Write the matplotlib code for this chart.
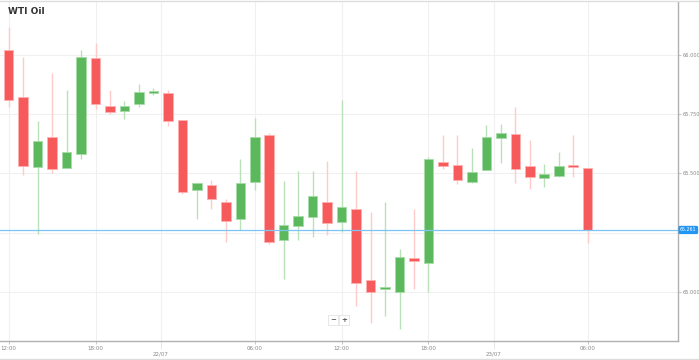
import numpy as np
import matplotlib
matplotlib.use("Agg")
import matplotlib.pyplot as plt
from matplotlib.lines import Line2D

# hourly OHLC, WTI Oil
opens = [66.021, 65.821, 65.525, 65.652, 65.524, 65.580, 65.986, 65.785, 65.763, 65.794,
         65.840, 65.839, 65.725, 65.428, 65.449, 65.380, 65.307, 65.463, 65.661, 65.218,
         65.279, 65.314, 65.380, 65.293, 65.349, 65.049, 65.010, 64.997, 65.144, 65.120,
         65.549, 65.534, 65.463, 65.514, 65.651, 65.665, 65.531, 65.479, 65.489, 65.535,
         65.521]
highs = [66.117, 65.990, 65.721, 65.923, 65.852, 66.021, 66.052, 65.852, 65.806, 65.876,
         65.859, 65.852, 65.727, 65.461, 65.472, 65.390, 65.559, 65.734, 65.669, 65.469,
         65.510, 65.510, 65.551, 65.810, 65.510, 65.335, 65.380, 65.179, 65.349, 65.570,
         65.662, 65.662, 65.606, 65.703, 65.708, 65.782, 65.641, 65.539, 65.590, 65.662,
         65.521]
lows = [65.782, 65.492, 65.244, 65.500, 65.524, 65.561, 65.770, 65.751, 65.731, 65.782,
        65.830, 65.700, 65.411, 65.308, 65.351, 65.211, 65.261, 65.430, 65.201, 65.052,
        65.218, 65.230, 65.239, 65.251, 64.939, 64.869, 64.899, 64.842, 65.011, 65.000,
        65.517, 65.454, 65.458, 65.514, 65.545, 65.461, 65.432, 65.441, 65.486, 65.486,
        65.204]
closes = [65.810, 65.531, 65.638, 65.520, 65.590, 65.990, 65.792, 65.759, 65.785, 65.844,
          65.843, 65.721, 65.423, 65.461, 65.390, 65.301, 65.461, 65.652, 65.210, 65.283,
          65.320, 65.404, 65.289, 65.359, 65.037, 64.997, 65.018, 65.148, 65.130, 65.559,
          65.531, 65.473, 65.508, 65.655, 65.670, 65.520, 65.485, 65.499, 65.531, 65.525,
          65.261]
last_price = 65.261

hour_ticks = [0, 6, 17, 23, 29, 40]
hour_labels = ["12:00", "18:00", "06:00", "12:00", "18:00", "06:00"]
date_ticks = [10.5, 33.5]
date_labels = ["22/07", "23/07"]
price_ticks = [65.0, 65.25, 65.5, 65.75, 66.0]
price_labels = ["65.000", "", "65.500", "65.750", "66.000"]

UP = "#5cb85c"
DOWN = "#f75a5a"
UP_WICK = "#b9e2b9"
DOWN_WICK = "#ffcaca"
GRID = "#f0f0f0"
AXIS = "#b0b0b0"
TXT = "#888888"

fig = plt.figure(figsize=(6.99, 3.6), dpi=100)
ax = fig.add_axes([0.0, 19 / 360, 678 / 699, 339 / 360])

x = np.arange(len(opens))
o = np.array(opens)
h = np.array(highs)
l = np.array(lows)
c = np.array(closes)
up = c >= o

# wicks
ax.vlines(x[up], l[up], h[up], color=UP_WICK, linewidth=1.0, zorder=2)
ax.vlines(x[~up], l[~up], h[~up], color=DOWN_WICK, linewidth=1.0, zorder=2)

# bodies
bottom = np.minimum(o, c)
height = np.maximum(np.abs(c - o), 0.008)
ax.bar(x[up], height[up], bottom=bottom[up], width=0.66, color=UP,
       edgecolor="#a6dba6", linewidth=0.6, zorder=3)
ax.bar(x[~up], height[~up], bottom=bottom[~up], width=0.66, color=DOWN,
       edgecolor="#ffb0b0", linewidth=0.6, zorder=3)

# current price line
ax.axhline(last_price, color="#7cc4f4", linewidth=0.9, zorder=4)

ax.set_xlim(-0.6, 46.24)
ax.set_ylim(64.792, 66.224)

# grid
for p in price_ticks:
    ax.axhline(p, color=GRID, linewidth=0.8, zorder=0)
for t in hour_ticks + date_ticks:
    ax.axvline(t, color=GRID, linewidth=0.8, zorder=0)

ax.yaxis.tick_right()
ax.set_yticks(price_ticks)
ax.set_yticklabels(price_labels)
ax.tick_params(axis="y", length=2, width=0.5, color=AXIS, labelsize=3.6,
               labelcolor=TXT, pad=1.0)

ax.set_xticks(hour_ticks)
ax.set_xticklabels(hour_labels)
ax.set_xticks(date_ticks, minor=True)
ax.set_xticklabels(date_labels, minor=True)
ax.tick_params(axis="x", which="major", length=2, width=0.5, color=AXIS,
               labelsize=4.0, labelcolor=TXT, pad=1.5)
ax.tick_params(axis="x", which="minor", length=6, width=0.5, color="#dddddd",
               labelsize=4.0, labelcolor=TXT, pad=1.5)

for side in ["left", "top"]:
    ax.spines[side].set_visible(False)
for side in ["right", "bottom"]:
    ax.spines[side].set_color(AXIS)
    ax.spines[side].set_linewidth(1.0)

# last price badge
ax.text(1.003, last_price, f"{last_price:.3f}", transform=ax.get_yaxis_transform(),
        ha="left", va="center", fontsize=3.4, color="white", zorder=6,
        bbox=dict(boxstyle="round,pad=0.2,rounding_size=0.2", fc="#2196f3",
                  ec="#2196f3"), clip_on=False)

# title
ax.text(8 / 678, 1 - 10 / 339, "WTI Oil", transform=ax.transAxes, fontsize=6.5,
        fontweight="bold", color="#333333", ha="left", va="center")

# zoom buttons
for lab, xp in [("\u2212", 333), ("+", 344)]:
    ax.text(xp / 678, 1 - 318 / 339, lab, transform=ax.transAxes, fontsize=5,
            ha="center", va="center", color="#555555", fontweight="bold",
            bbox=dict(boxstyle="square,pad=0.35", fc="white", ec="#dddddd", lw=0.5))

# frame lines of the widget
fig.add_artist(Line2D([0, 1], [1 - 0.5 / 360, 1 - 0.5 / 360], color="#dddddd",
                      linewidth=1.0, transform=fig.transFigure))
fig.add_artist(Line2D([0, 1], [1 / 360, 1 / 360], color="#dddddd",
                      linewidth=1.0, transform=fig.transFigure))

fig.savefig("out.png", dpi=100, facecolor="white")
